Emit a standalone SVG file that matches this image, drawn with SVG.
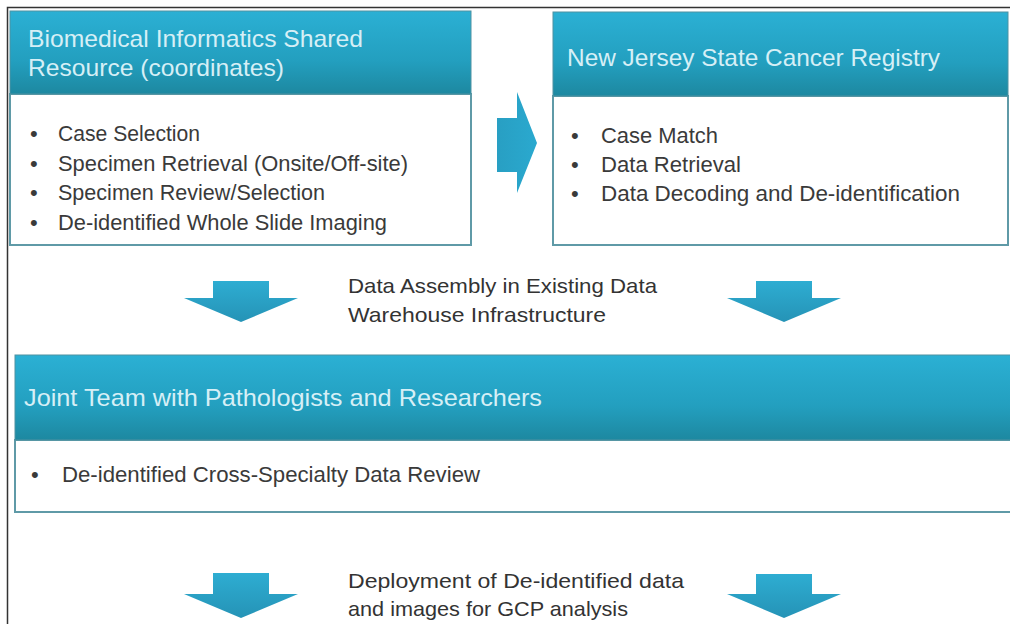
<svg xmlns="http://www.w3.org/2000/svg" width="1010" height="624" viewBox="0 0 1010 624">
  <defs>
    <linearGradient id="hdr" x1="0" y1="0" x2="0" y2="1">
      <stop offset="0" stop-color="#2bb0d4"/>
      <stop offset="0.6" stop-color="#239fbf"/>
      <stop offset="1" stop-color="#1d88a0"/>
    </linearGradient>
    <linearGradient id="arr" x1="0" y1="0" x2="0" y2="1">
      <stop offset="0" stop-color="#2eadd2"/>
      <stop offset="1" stop-color="#2593b6"/>
    </linearGradient>
    <linearGradient id="arrh" x1="0" y1="0" x2="1" y2="0">
      <stop offset="0" stop-color="#289fc3"/>
      <stop offset="1" stop-color="#2aa9cf"/>
    </linearGradient>
  </defs>
  <style>
    .frame { stroke: #333; stroke-width: 1.5; fill: none; }
    .hdr { fill: url(#hdr); stroke: #4f92a2; stroke-width: 1; }
    .body { fill: #ffffff; stroke: #5f9aa7; stroke-width: 2; }
    .htxt { font-family: "Liberation Sans", Arial, sans-serif; font-size: 24px; fill: #d6eff6; }
    .btxt { font-family: "Liberation Sans", Arial, sans-serif; font-size: 22px; fill: #3a3a3a; }
    .mtxt { font-family: "Liberation Sans", Arial, sans-serif; font-size: 21px; fill: #333333; }
    .arrow { fill: url(#arr); }
  </style>
  <rect x="0" y="0" width="1010" height="624" fill="#ffffff"/>
  <path class="frame" d="M7.5 624 V7.5 H1010"/>

  <g id="node-bisr">
    <rect class="body" x="10" y="94" width="461" height="151"/>
    <rect class="hdr" x="10" y="11" width="461" height="83"/>
    <text class="htxt" x="28" y="47" textLength="335" lengthAdjust="spacingAndGlyphs">Biomedical Informatics Shared</text>
    <text class="htxt" x="28" y="76" textLength="256" lengthAdjust="spacingAndGlyphs">Resource (coordinates)</text>
    <g class="btxt">
      <text x="30" y="141">•</text>
      <text x="58" y="141" textLength="142" lengthAdjust="spacingAndGlyphs">Case Selection</text>
      <text x="30" y="171">•</text>
      <text x="58" y="171" textLength="350" lengthAdjust="spacingAndGlyphs">Specimen Retrieval (Onsite/Off-site)</text>
      <text x="30" y="200">•</text>
      <text x="58" y="200" textLength="267" lengthAdjust="spacingAndGlyphs">Specimen Review/Selection</text>
      <text x="30" y="230">•</text>
      <text x="58" y="230" textLength="329" lengthAdjust="spacingAndGlyphs">De-identified Whole Slide Imaging</text>
    </g>
  </g>

  <g id="node-njscr">
    <rect class="body" x="553" y="96" width="455" height="149"/>
    <rect class="hdr" x="553" y="12" width="455" height="84"/>
    <text class="htxt" x="567" y="66" textLength="373" lengthAdjust="spacingAndGlyphs">New Jersey State Cancer Registry</text>
    <g class="btxt">
      <text x="571" y="143">•</text>
      <text x="601" y="143" textLength="117" lengthAdjust="spacingAndGlyphs">Case Match</text>
      <text x="571" y="172">•</text>
      <text x="601" y="172" textLength="140" lengthAdjust="spacingAndGlyphs">Data Retrieval</text>
      <text x="571" y="201">•</text>
      <text x="601" y="201" textLength="359" lengthAdjust="spacingAndGlyphs">Data Decoding and De-identification</text>
    </g>
  </g>

  <g id="node-joint">
    <rect class="body" x="15" y="440" width="1000" height="72"/>
    <rect class="hdr" x="15" y="355" width="1000" height="85"/>
    <text class="htxt" x="24" y="406" font-size="23" textLength="518" lengthAdjust="spacingAndGlyphs">Joint Team with Pathologists and Researchers</text>
    <g class="btxt">
      <text x="31" y="482">•</text>
      <text x="62" y="482" textLength="418" lengthAdjust="spacingAndGlyphs">De-identified Cross-Specialty Data Review</text>
    </g>
  </g>

  <g id="label-assembly" class="mtxt">
    <text x="348" y="293" textLength="309" lengthAdjust="spacingAndGlyphs">Data Assembly in Existing Data</text>
    <text x="348" y="322" textLength="258" lengthAdjust="spacingAndGlyphs">Warehouse Infrastructure</text>
  </g>

  <g id="label-deployment" class="mtxt">
    <text x="348" y="588" textLength="336" lengthAdjust="spacingAndGlyphs">Deployment of De-identified data</text>
    <text x="348" y="616" textLength="280" lengthAdjust="spacingAndGlyphs">and images for GCP analysis</text>
  </g>

  <g id="connectors">
    <polygon fill="url(#arrh)" points="497,118 517,118 517,92 537,143 517,193 517,172 497,172"/>
    <polygon class="arrow" points="213,281 269,281 269,298 298,298 241,322 184,298 213,298"/>
    <polygon class="arrow" points="756,281 812,281 812,298 841,298 784,322 727,298 756,298"/>
    <polygon class="arrow" points="213,573 269,573 269,594 298,594 241,618 184,594 213,594"/>
    <polygon class="arrow" points="756,574 812,574 812,594 841,594 784,618 727,594 756,594"/>
  </g>
</svg>
